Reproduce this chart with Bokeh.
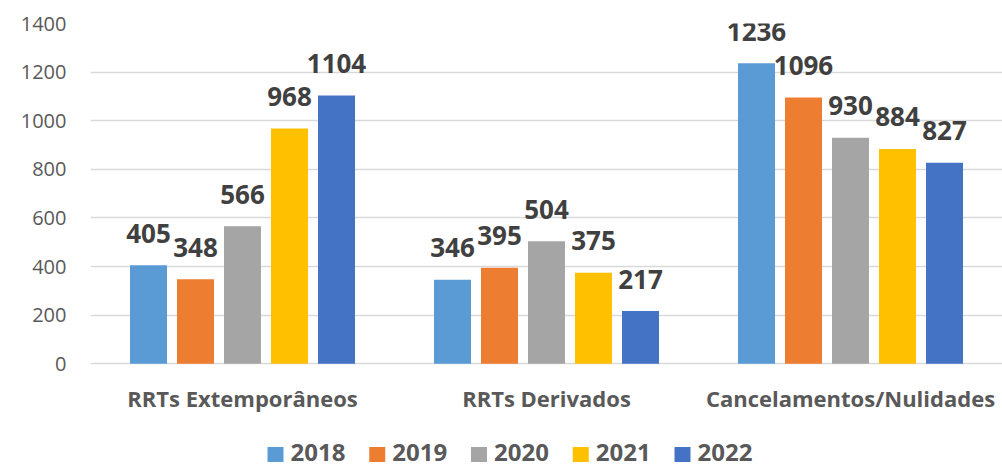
from bokeh.plotting import figure
from bokeh.models import ColumnDataSource, FixedTicker, Range1d
from bokeh.core.properties import value
from bokeh.embed import file_html
from bokeh.resources import INLINE

categories = ["RRTs Extemporâneos", "RRTs Derivados", "Cancelamentos/Nulidades"]
years = ["2018", "2019", "2020", "2021", "2022"]
v2018 = [405, 346, 1236]
v2019 = [348, 395, 1096]
v2020 = [566, 504, 930]
v2021 = [968, 375, 884]
v2022 = [1104, 217, 827]
y_ticks = [0, 200, 400, 600, 800, 1000, 1200, 1400]
colors = ["#5B9BD5", "#ED7D31", "#A5A5A5", "#FFC000", "#4472C4"]

series = [v2018, v2019, v2020, v2021, v2022]

FONT = "Open Sans"
W, H = 1002, 466
LEFT, TOP = 90, 23
ZERO_Y = 363.3  # screen y of value 0
px_per_unit = (ZERO_Y - TOP) / 1400.0
y_bottom = -(H - ZERO_Y) / px_per_unit
n_cat = len(categories)
cat_px = (W - LEFT) / n_cat

p = figure(width=W, height=H, x_range=Range1d(0, n_cat), y_range=Range1d(y_bottom, 1400),
           output_backend="svg", toolbar_location=None,
           min_border_left=LEFT, min_border_right=0, min_border_top=TOP, min_border_bottom=0)
p.outline_line_color = None
p.background_fill_color = "white"
p.border_fill_color = "white"
# pixel-space helper y range for legend
p.extra_y_ranges = {"py": Range1d(H, TOP)}

centers = [i + 0.5 for i in range(n_cat)]
unit_w = 37 / cat_px
pitch = 47 / cat_px
for i, (yr, col, vals) in enumerate(zip(years, colors, series)):
    off = (i - 2) * pitch
    xs = [c + off for c in centers]
    src = ColumnDataSource(dict(x=xs, top=vals, lbl=[str(v) for v in vals]))
    p.vbar(x="x", top="top", bottom=0, width=unit_w, source=src,
           fill_color=col, line_color=None)
    p.text(x="x", y="top", text="lbl", source=src,
           text_align="center", text_baseline="alphabetic", y_offset=-32,
           text_font=value(FONT), text_font_style="bold", text_font_size="26px",
           text_color="#404040")

# category labels
p.text(x=centers, y=[0] * n_cat, text=categories, text_align="center",
       text_baseline="alphabetic", y_offset=34,
       text_font=value(FONT), text_font_style="bold", text_font_size="22px",
       text_color="#595959")

# legend (pixel positions converted to data x)
sq_px = [275 + i * 101.75 for i in range(len(years))]
sq_x = [(x - LEFT) / cat_px for x in sq_px]
p.rect(x=sq_x, y=[454] * len(years), width=16 / cat_px, height=15, fill_color=colors,
       line_color=None, y_range_name="py")
p.text(x=[(x + 15 - LEFT) / cat_px for x in sq_px], y=[452] * len(years), text=years,
       text_align="left", text_baseline="alphabetic", text_font=value(FONT),
       text_font_style="bold", text_font_size="24px", text_color="#595959", y_range_name="py")

p.xaxis.visible = False
p.yaxis.ticker = FixedTicker(ticks=y_ticks)
p.yaxis.axis_line_color = None
p.yaxis.major_tick_line_color = None
p.yaxis.minor_tick_line_color = None
p.yaxis.major_label_standoff = 18
p.yaxis.major_label_text_font = FONT
p.yaxis.major_label_text_font_size = "20px"
p.yaxis.major_label_text_color = "#595959"

p.xgrid.grid_line_color = None
p.ygrid.grid_line_color = "#d9d9d9"
p.ygrid.grid_line_width = 1.5

open("out.html", "w").write(file_html(p, INLINE))
